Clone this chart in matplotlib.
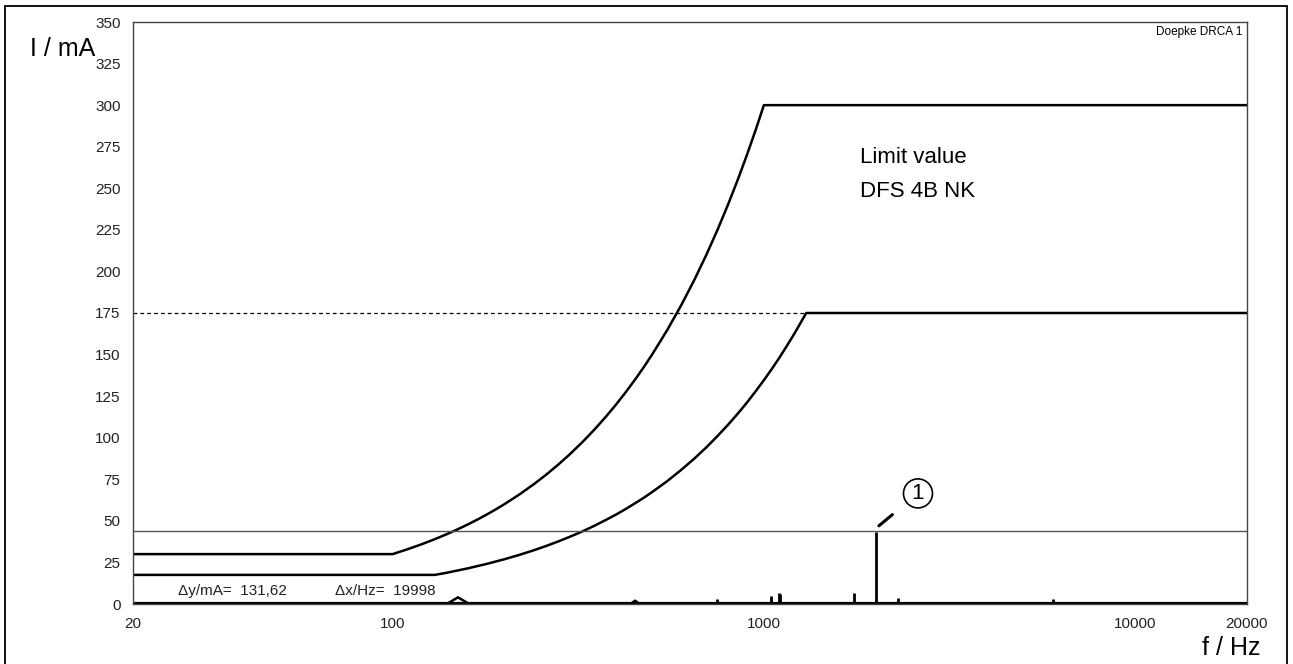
import matplotlib
matplotlib.use('agg')
import matplotlib.pyplot as plt
from matplotlib.patches import Rectangle

plt.rcParams['font.family'] = ['Liberation Sans', 'DejaVu Sans']

# limit curves (f in Hz, I in mA)
upper_f = [20, 100, 110, 120, 130, 140, 150, 160, 170, 180, 190, 200, 220, 240, 260, 280,
           300, 325, 350, 375, 400, 425, 450, 475, 500, 550, 600, 650, 700, 750, 800,
           850, 900, 950, 1000, 20000]
upper_i = [30, 30, 33, 36, 39, 42, 45, 48, 51, 54, 57, 60, 66, 72, 78, 84,
           90, 97.5, 105, 112.5, 120, 127.5, 135, 142.5, 150, 165, 180, 195, 210, 225, 240,
           255, 270, 285, 300, 300]
lower_f = [20, 130, 140, 150, 160, 170, 180, 190, 200, 220, 240, 260, 280, 300, 325, 350,
           375, 400, 425, 450, 475, 500, 550, 600, 650, 700, 750, 800, 850, 900, 950,
           1000, 1050, 1100, 1150, 1200, 1250, 1300, 20000]
lower_i = [17.5, 17.5, 18.8, 20.2, 21.5, 22.9, 24.2, 25.6, 26.9, 29.6, 32.3, 35, 37.7, 40.4,
           43.7, 47.1, 50.5, 53.8, 57.2, 60.6, 63.9, 67.3, 74, 80.8, 87.5, 94.2, 101, 107.7,
           114.4, 121.1, 127.9, 134.6, 141.3, 148, 154.8, 161.5, 168.3, 175, 175]

# measured spectrum
spike_f = [549, 750, 803, 950, 1042, 1100, 1105, 1200, 1350, 1750, 2000, 2300, 6000, 10000]
spike_i = [1, 3, 1, 1, 5, 6.5, 6, 1, 1, 6.5, 43, 3.5, 3, 1]
tri1_f = [140, 150, 161]
tri1_i = [0, 4, 0]
tri2_f = [437, 450, 463]
tri2_i = [0, 2, 0]

limit_175 = 175
level_line = 44
yticks = list(range(0, 351, 25))
xticks = [20, 100, 1000, 10000, 20000]

fig = plt.figure(figsize=(12.93, 6.64), dpi=100)
ax = fig.add_axes([133 / 1293, 1 - 604 / 664, (1247 - 133) / 1293, (604 - 22) / 664])

ax.plot(upper_f, upper_i, color='black', lw=1.8)
ax.plot(lower_f, lower_i, color='black', lw=1.8)
ax.plot([20, 1300], [limit_175, limit_175], color='black', lw=0.9, ls=(0, (3, 2.5)))
ax.axhline(level_line, color='#555555', lw=1)

ax.plot([20, 20000], [0, 0], color='black', lw=3, solid_capstyle='butt')
ax.vlines(spike_f, 0, spike_i, color='black', lw=2)
ax.plot(tri1_f, tri1_i, color='black', lw=1.8)
ax.plot(tri2_f, tri2_i, color='black', lw=1.8)

ax.set_xscale('log')
ax.set_xlim(20, 20000)
ax.set_ylim(0, 350)
ax.set_xticks(xticks)
ax.set_xticklabels([str(t) for t in xticks])
ax.minorticks_off()
ax.set_yticks(yticks)
ax.tick_params(length=0, labelsize=11, colors='#222222')
ax.tick_params(axis='y', pad=9)
ax.tick_params(axis='x', pad=9)
for s in ax.spines.values():
    s.set_color('#444444')
    s.set_linewidth(1)

ax.annotate('1', xy=(2040, 47), xytext=(2600, 66.5), fontsize=16,
            ha='center', va='center',
            bbox=dict(boxstyle='circle,pad=0.18', fc='white', ec='black', lw=1.2),
            arrowprops=dict(arrowstyle='-', color='black', lw=2.2, shrinkA=13, shrinkB=0))

ax.text(0.653, 0.768, 'Limit value', transform=ax.transAxes, fontsize=16, va='center')
ax.text(0.653, 0.708, 'DFS 4B NK', transform=ax.transAxes, fontsize=16, va='center')
ax.text(0.9955, 0.983, 'Doepke DRCA 1', transform=ax.transAxes, fontsize=8.5,
        ha='right', va='center')
ax.text(178 / 1293, 1 - 591 / 664, '\u0394y/mA=  131,62', transform=fig.transFigure,
        fontsize=11, va='center', color='#222222')
ax.text(335 / 1293, 1 - 591 / 664, '\u0394x/Hz=  19998', transform=fig.transFigure,
        fontsize=11, va='center', color='#222222')

fig.text(30 / 1293, 1 - 49 / 664, 'I / mA', fontsize=18, va='center')
fig.text(1260 / 1293, 1 - 648 / 664, 'f / Hz', fontsize=18, va='center', ha='right')

fig.patches.append(Rectangle((5 / 1293, -0.02), (1287 - 5) / 1293, 1.02 - 6 / 664,
                             transform=fig.transFigure, fill=False, ec='black', lw=1.3))

fig.savefig('out.png', dpi=100)
